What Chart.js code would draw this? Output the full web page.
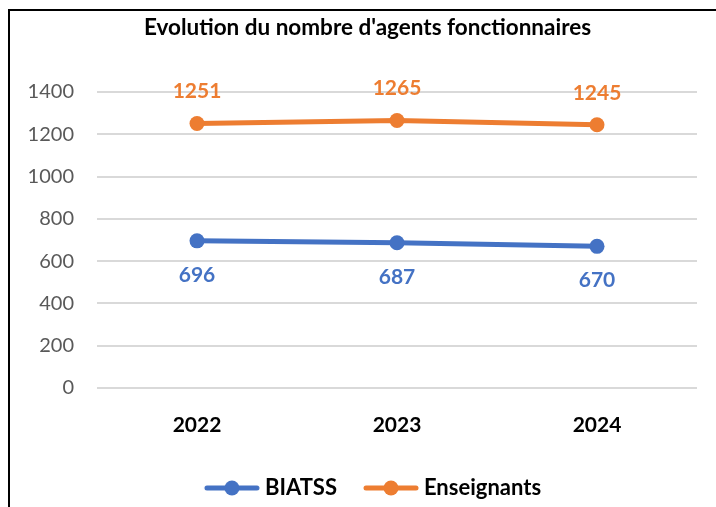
<!DOCTYPE html>
<html>
<head>
<meta charset="utf-8">
<script src="https://cdn.jsdelivr.net/npm/chart.js@4"></script>
<style>
    body { margin: 0; background: #fff; }
    #frame {
        position: absolute;
        left: 8px;
        top: 9px;
        width: 706px;
        height: 496px;
        border-left: 2px solid #000;
        border-top: 2px solid #000;
    }
</style>
</head>
<body>
<div id="frame"><canvas id="chartAgents"></canvas></div>
<script>
// Data
const years = ['2022', '2023', '2024'];
const biatss = [696, 687, 670];
const enseignants = [1251, 1265, 1245];
const yTicks = [0, 200, 400, 600, 800, 1000, 1200, 1400];

const BLUE = '#4472C4';
const ORANGE = '#ED7D31';

Chart.defaults.font.family = "Lato, 'Open Sans', sans-serif";

// Excel-like legend marker: line with a dot in the middle
function legendMarker(color) {
    const c = document.createElement('canvas');
    c.width = 58;
    c.height = 18;
    const g = c.getContext('2d');
    g.strokeStyle = color;
    g.lineWidth = 5;
    g.lineCap = 'round';
    g.beginPath();
    g.moveTo(4, 9);
    g.lineTo(54, 9);
    g.stroke();
    g.fillStyle = color;
    g.beginPath();
    g.arc(29, 9, 7.5, 0, Math.PI * 2);
    g.fill();
    return c;
}

// Value labels: orange above the points, blue below
const valueLabels = {
    id: 'valueLabels',
    afterDatasetsDraw(chart) {
        const ctx = chart.ctx;
        ctx.save();
        ctx.font = "bold 21px Lato, 'Open Sans', sans-serif";
        ctx.textAlign = 'center';
        ctx.textBaseline = 'middle';
        chart.data.datasets.forEach((ds, i) => {
            const meta = chart.getDatasetMeta(i);
            ctx.fillStyle = ds.borderColor;
            meta.data.forEach((pt, j) => {
                const dy = ds.labelBelow ? 34 : -32;
                ctx.fillText(String(ds.data[j]), pt.x, pt.y + dy);
            });
        });
        ctx.restore();
    }
};

// Title and legend sit a bit right of the canvas centre in the original
const shiftBoxes = {
    id: 'shiftBoxes',
    afterLayout(chart) {
        const moves = [[chart.titleBlock, 14], [chart.legend, 22]];
        moves.forEach(([box, dx]) => {
            if (!box) return;
            box.left += dx;
            box.right += dx;
        });
    }
};

const ctx = document.getElementById('chartAgents').getContext('2d');
new Chart(ctx, {
    type: 'line',
    data: {
        labels: years,
        datasets: [
            {
                label: 'BIATSS',
                data: biatss,
                borderColor: BLUE,
                backgroundColor: BLUE,
                borderWidth: 5,
                pointRadius: 7.5,
                pointBorderWidth: 0,
                pointBackgroundColor: BLUE,
                labelBelow: true,
                marker: legendMarker(BLUE)
            },
            {
                label: 'Enseignants',
                data: enseignants,
                borderColor: ORANGE,
                backgroundColor: ORANGE,
                borderWidth: 5,
                pointRadius: 7.5,
                pointBorderWidth: 0,
                pointBackgroundColor: ORANGE,
                labelBelow: false,
                marker: legendMarker(ORANGE)
            }
        ]
    },
    options: {
        responsive: true,
        maintainAspectRatio: false,
        animation: false,
        layout: {
            padding: { left: 0, right: 19, top: 0, bottom: -2 }
        },
        plugins: {
            title: {
                display: true,
                text: "Evolution du nombre d'agents fonctionnaires",
                color: '#000',
                font: { size: 22.5, weight: 'bold' },
                padding: { top: 3.5, bottom: 50.5 }
            },
            legend: {
                position: 'bottom',
                labels: {
                    usePointStyle: true,
                    pointStyleWidth: 44,
                    padding: 32,
                    color: '#000',
                    font: { size: 22, weight: 'bold' },
                    generateLabels(chart) {
                        const items = Chart.defaults.plugins.legend.labels.generateLabels(chart);
                        items.forEach(it => {
                            it.pointStyle = chart.data.datasets[it.datasetIndex].marker;
                        });
                        return items;
                    }
                }
            },
            tooltip: { enabled: false }
        },
        scales: {
            x: {
                offset: true,
                grid: { display: false },
                border: { display: false },
                ticks: {
                    color: '#000',
                    padding: 17,
                    font: { size: 21, weight: 'bold' }
                },
                afterFit(scale) { scale.height = 57; }
            },
            y: {
                min: 0,
                max: 1400,
                afterBuildTicks(scale) {
                    scale.ticks = yTicks.map(v => ({ value: v }));
                },
                grid: { color: '#d9d9d9', lineWidth: 2, drawTicks: false },
                border: { display: false },
                ticks: {
                    color: '#595959',
                    padding: 23,
                    font: { size: 20 },
                    callback: v => String(v)
                },
                afterFit(scale) { scale.width = 87; }
            }
        }
    },
    plugins: [valueLabels, shiftBoxes]
});
</script>
</body>
</html>
